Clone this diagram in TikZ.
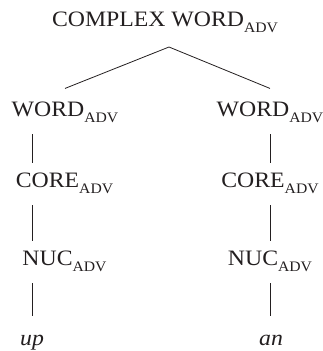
\documentclass[tikz,border=0pt]{standalone}
\usepackage{fontspec}
\setmainfont{Liberation Serif}[FakeStretch=1.08]
\usetikzlibrary{positioning}
\definecolor{ink}{HTML}{231F20}

% lowered small label after a category name
\newcommand{\advsub}{\raisebox{-6pt}{\fontsize{14.5}{16}\selectfont ADV}}

\begin{document}
\begin{tikzpicture}[
    x=1pt, y=-1pt,
    every node/.style={inner sep=0pt, anchor=base, text=ink, font=\fontsize{22}{26}\selectfont},
    wordnode/.style={outer ysep=13pt},
    branch/.style={draw=ink, line width=0.8pt, shorten <=18pt, shorten >=24pt},
    leafbranch/.style={branch, shorten >=29pt}
]
\useasboundingbox (0,0) rectangle (323,351);

\node (top) at (165,26) {COMPLEX WORD\advsub};
\coordinate (apex) at (169,47);

% left column
\node (wl) [wordnode] at (65,116) {WORD\advsub};
\node (cl) at (64.5,187) {CORE\advsub};
\node (nl) at (64.5,265) {NUC\advsub};
\node (ul) at (32,345) {\textit{up}};

% right column
\node (wr) [wordnode] at (270,116) {WORD\advsub};
\node (cr) at (270,187) {CORE\advsub};
\node (nr) at (270,265) {NUC\advsub};
\node (ur) at (271,345) {\textit{an}};

\coordinate (lcol) at (32,0);
\coordinate (rcol) at (270,0);

\draw[draw=ink, line width=0.8pt] (wl.north) -- (apex) -- (wr.north);

\draw[branch] (wl.base -| lcol) -- (cl.base -| lcol);
\draw[branch] (cl.base -| lcol) -- (nl.base -| lcol);
\draw[leafbranch] (nl.base -| lcol) -- (ul.base -| lcol);

\draw[branch] (wr.base -| rcol) -- (cr.base -| rcol);
\draw[branch] (cr.base -| rcol) -- (nr.base -| rcol);
\draw[leafbranch] (nr.base -| rcol) -- (ur.base -| rcol);
\end{tikzpicture}
\end{document}
